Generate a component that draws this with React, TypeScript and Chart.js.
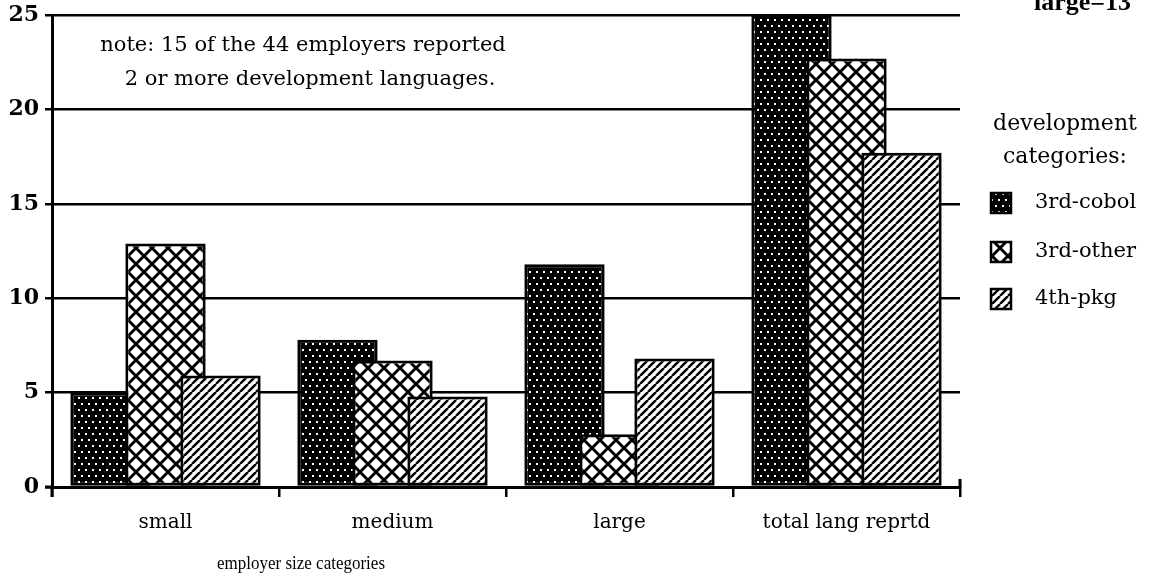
import React, { useEffect, useRef } from 'react';
import { Chart, registerables } from 'chart.js';

Chart.register(...registerables);

const categories = ['small', 'medium', 'large', 'total lang reprtd'];
const seriesNames = ['3rd-cobol', '3rd-other', '4th-pkg'];
const cobol = [5, 7.8, 11.8, 25];
const other = [12.9, 6.7, 2.8, 22.7];
const pkg = [5.9, 4.8, 6.8, 17.7];
const yMin = 0;
const yMax = 25;
const yStep = 5;
const noteLines = ['note: 15 of the 44 employers reported', '2 or more development languages.'];
const xTitle = 'employer size categories';
const legendTitle = ['development', 'categories:'];
const cornerNote = 'large=13';

function stipple(): CanvasPattern {
  const c = document.createElement('canvas');
  c.width = 7;
  c.height = 12;
  const g = c.getContext('2d')!;
  g.fillStyle = '#000';
  g.fillRect(0, 0, 7, 12);
  g.fillStyle = '#fff';
  g.fillRect(1, 1, 2, 2);
  g.fillRect(4, 7, 2, 2);
  return g.createPattern(c, 'repeat')!;
}

function crosshatch(): CanvasPattern {
  const s = 16;
  const c = document.createElement('canvas');
  c.width = s;
  c.height = s;
  const g = c.getContext('2d')!;
  g.fillStyle = '#fff';
  g.fillRect(0, 0, s, s);
  g.strokeStyle = '#000';
  g.lineWidth = 3;
  for (const k of [-s, 0, s]) {
    g.beginPath();
    g.moveTo(k, 0);
    g.lineTo(k + s, s);
    g.stroke();
    g.beginPath();
    g.moveTo(k + s, 0);
    g.lineTo(k, s);
    g.stroke();
  }
  return g.createPattern(c, 'repeat')!;
}

function stripes(): CanvasPattern {
  const s = 8;
  const c = document.createElement('canvas');
  c.width = s;
  c.height = s;
  const g = c.getContext('2d')!;
  g.fillStyle = '#fff';
  g.fillRect(0, 0, s, s);
  g.strokeStyle = '#000';
  g.lineWidth = 2.4;
  for (const k of [-s, 0, s]) {
    g.beginPath();
    g.moveTo(k, s);
    g.lineTo(k + s, 0);
    g.stroke();
  }
  return g.createPattern(c, 'repeat')!;
}

export default function App() {
  const ref = useRef<HTMLCanvasElement | null>(null);

  useEffect(() => {
    document.body.style.margin = '0';
    document.body.style.overflow = 'hidden';
    const canvas = ref.current!;
    const patterns = [stipple(), crosshatch(), stripes()];
    const values = [cobol, other, pkg];

    const orderPlugin = {
      id: 'orderPlugin',
      beforeDatasetsDraw(chart: any) {
        const ctx = chart.ctx;
        const a = chart.chartArea;
        ctx.save();
        ctx.beginPath();
        ctx.rect(a.left, a.top, a.right - a.left, a.bottom - a.top);
        ctx.clip();
        for (let i = 0; i < chart.data.datasets.length; i++) {
          const meta = chart.getDatasetMeta(i);
          if (!meta.hidden) meta.controller.draw();
        }
        ctx.restore();
      },
      beforeDatasetDraw() {
        return false;
      },
    };

    const textPlugin = {
      id: 'texts',
      afterDraw(chart: any) {
        const ctx = chart.ctx;
        const a = chart.chartArea;
        ctx.save();
        ctx.strokeStyle = '#000';
        ctx.lineWidth = 3;
        ctx.beginPath();
        ctx.moveTo(a.left, a.bottom);
        ctx.lineTo(a.left, a.bottom + 10);
        ctx.moveTo(a.left - 7, a.bottom);
        ctx.lineTo(a.left, a.bottom);
        ctx.moveTo(a.right, a.bottom - 8);
        ctx.lineTo(a.right, a.bottom);
        ctx.stroke();

        ctx.fillStyle = '#000';
        ctx.textAlign = 'center';
        ctx.textBaseline = 'middle';
        ctx.font = '21px "DejaVu Serif"';
        ctx.fillText(noteLines[0], 303, 46);
        ctx.fillText(noteLines[1], 310, 80);

        ctx.font = '19px "Liberation Serif"';
        ctx.fillText(xTitle, 301, 564, 168);

        ctx.font = 'bold 26px "Liberation Serif"';
        ctx.textAlign = 'left';
        ctx.textBaseline = 'alphabetic';
        ctx.fillText(cornerNote, 1034, 10);

        ctx.textAlign = 'center';
        ctx.textBaseline = 'middle';
        ctx.font = '22px "DejaVu Serif"';
        ctx.fillText(legendTitle[0], 1065, 124);
        ctx.fillText(legendTitle[1], 1065, 157);

        const ys = [203, 252, 299];
        ctx.textAlign = 'left';
        for (let i = 0; i < seriesNames.length; i++) {
          ctx.fillStyle = patterns[i];
          ctx.fillRect(990, ys[i] - 11, 22, 22);
          ctx.strokeStyle = '#000';
          ctx.lineWidth = 2.5;
          ctx.strokeRect(991, ys[i] - 10, 20, 20);
          ctx.fillStyle = '#000';
          ctx.font = '21px "DejaVu Serif"';
          ctx.fillText(seriesNames[i], 1035, ys[i]);
        }
        ctx.restore();
      },
    };

    const chart = new Chart(canvas, {
      type: 'bar',
      data: {
        labels: categories,
        datasets: seriesNames.map((name, i) => ({
          label: name,
          data: values[i],
          backgroundColor: patterns[i],
          borderColor: '#000',
          borderWidth: 3,
          borderSkipped: false,
          categoryPercentage: 0.727,
          barPercentage: 1.46,
        })),
      },
      options: {
        responsive: false,
        animation: false,
        devicePixelRatio: 1,
        layout: { padding: { top: 15, right: 204, left: 0, bottom: 0 } },
        plugins: {
          legend: { display: false },
          tooltip: { enabled: false },
          title: { display: false },
        },
        scales: {
          x: {
            type: 'category',
            offset: true,
            afterFit: (s: any) => {
              s.height = 91;
              s.paddingLeft = 0;
              s.paddingRight = 0;
            },
            grid: {
              display: true,
              drawOnChartArea: false,
              drawTicks: true,
              tickLength: 10,
              color: '#000',
              lineWidth: 2.5,
              offset: true,
            },
            border: { display: true, color: '#000', width: 3 },
            ticks: {
              color: '#000',
              font: { family: '"DejaVu Serif"', size: 20 },
              padding: 14,
              maxRotation: 0,
              autoSkip: false,
            },
          },
          y: {
            min: yMin,
            max: yMax,
            afterFit: (s: any) => {
              s.width = 52;
              s.paddingTop = 0;
              s.paddingBottom = 0;
            },
            grid: {
              color: '#000',
              lineWidth: 2.5,
              drawTicks: true,
              tickLength: 7,
            },
            border: { display: true, color: '#000', width: 3 },
            ticks: {
              stepSize: yStep,
              color: '#000',
              font: { family: '"DejaVu Serif"', size: 22, weight: 'bold' },
              padding: 6,
            },
          },
        },
      },
      plugins: [orderPlugin, textPlugin],
    } as any);

    return () => {
      chart.destroy();
    };
  }, []);

  return (
    <div style={{ width: 1164, height: 578, position: 'relative', background: '#fff' }}>
      <canvas ref={ref} width={1164} height={578} style={{ display: 'block' }} />
    </div>
  );
}
